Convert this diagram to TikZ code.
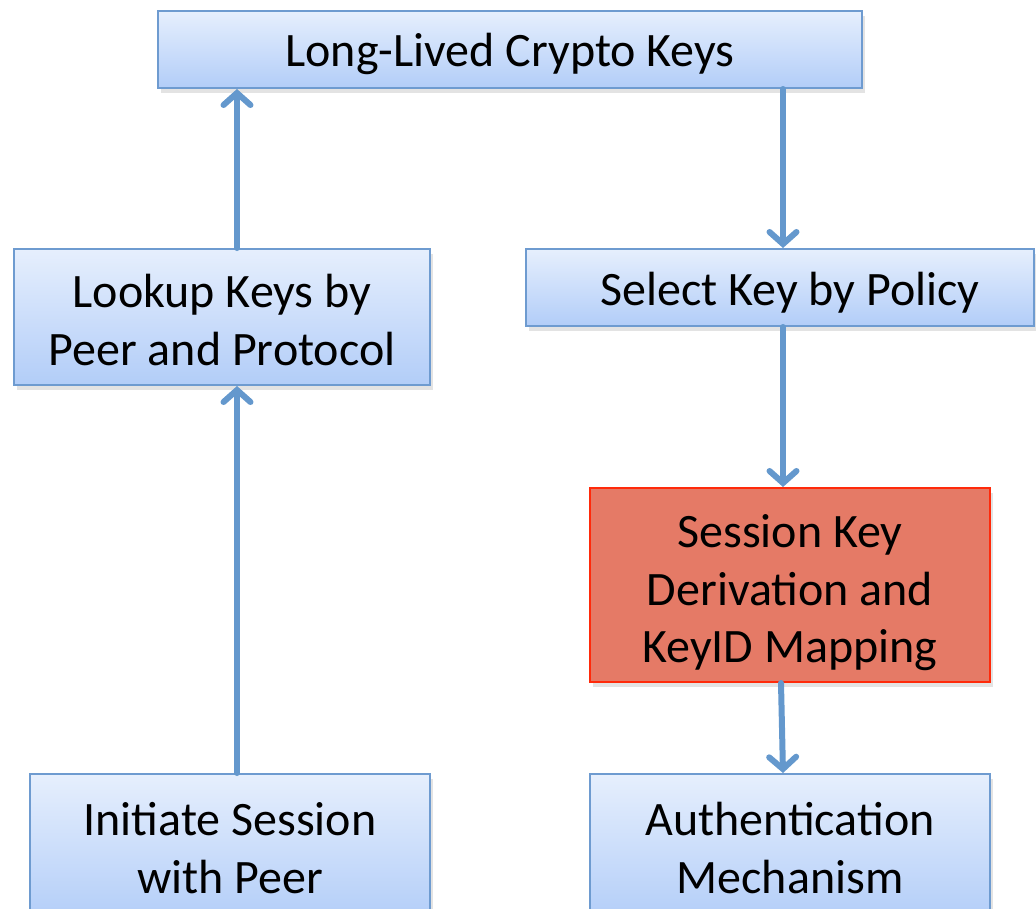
\documentclass[tikz,border=0pt]{standalone}
\usepackage{fontspec}
\setmainfont{Carlito}
\usetikzlibrary{arrows.meta,shadows}
\definecolor{boxtop}{HTML}{E6EFFD}
\definecolor{boxbot}{HTML}{B2CDF8}
\definecolor{boxline}{HTML}{6E9BD0}
\definecolor{keyfill}{HTML}{E57A66}
\definecolor{keyline}{HTML}{FF2A0A}
\definecolor{flow}{HTML}{6498CD}
\tikzset{
  stagebox/.style={draw=boxline, line width=2pt, top color=boxtop, bottom color=boxbot,
    inner sep=0pt,
    drop shadow={opacity=0.22, shadow xshift=3pt, shadow yshift=-5pt}},
  keybox/.style={stagebox, draw=keyline, fill=keyfill, top color=keyfill, bottom color=keyfill},
  boxtext/.style={align=center, inner sep=0pt, font=\fontsize{48}{57.5}\selectfont},
  flowarrow/.style={draw=flow, line width=6pt, line cap=round,
    -{Straight Barb[length=12pt, width=27pt, line cap=round, line width=6pt]}}
}
\begin{document}
\begin{tikzpicture}[x=1pt, y=-1pt]
  \useasboundingbox (0,0) rectangle (1036,908);
  \clip (0,0) rectangle (1036,908);
  % boxes, positioned by their centres; captions sit at the centre
  \node[stagebox, minimum width=704pt, minimum height=77pt,
    label={[boxtext, yshift=-4pt]center:Long-Lived Crypto Keys}] (keys) at (510,49.5) {};
  \node[stagebox, minimum width=416pt, minimum height=136pt,
    label={[boxtext, yshift=-3pt]center:Lookup Keys by\\Peer and Protocol}] (lookup) at (222,317) {};
  \node[stagebox, minimum width=508pt, minimum height=77pt,
    label={[boxtext, xshift=10pt, yshift=-5pt]center:Select Key by Policy}] (select) at (780,287.5) {};
  \node[keybox, minimum width=400pt, minimum height=194pt,
    label={[boxtext, yshift=-8pt]center:Session Key\\Derivation and\\KeyID Mapping}] (derive) at (790,585) {};
  \node[stagebox, minimum width=400pt, minimum height=148pt,
    label={[boxtext]center:Initiate Session\\with Peer}] (initiate) at (230,848) {};
  \node[stagebox, minimum width=400pt, minimum height=148pt,
    label={[boxtext]center:Authentication\\Mechanism}] (auth) at (790,848) {};
  % connectors
  \draw[flowarrow] (initiate.north -| 237,0) -- (lookup.south -| 237,0);
  \draw[flowarrow] (lookup.north -| 237,0) -- (keys.south -| 237,0);
  \draw[flowarrow] (keys.south -| 783,0) -- (select.north -| 783,0);
  \draw[flowarrow] (select.south -| 783,0) -- (derive.north -| 783,0);
  \draw[flowarrow] (derive.south -| 781,0) -- (auth.north -| 783,0);
\end{tikzpicture}
\end{document}
